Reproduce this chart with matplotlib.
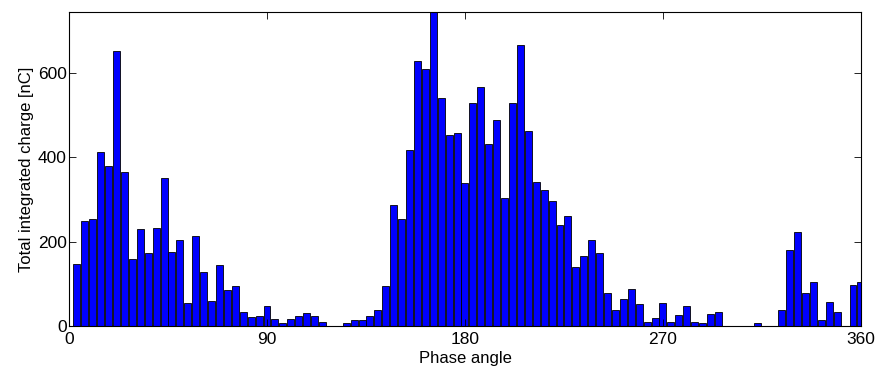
import matplotlib
matplotlib.use("Agg")
import matplotlib.pyplot as plt
import numpy as np

plt.rcParams['font.family'] = ['Liberation Sans', 'DejaVu Sans']

bin_step = 3.6
charge = [
    148, 249, 255, 412, 380, 652, 365, 160, 229, 172,
    233, 350, 175, 203, 54, 213, 127, 60, 145, 85,
    96, 33, 21, 24, 48, 17, 7, 17, 24, 31,
    24, 9, 0, 0, 7, 14, 14, 24, 37, 94,
    286, 255, 418, 629, 609, 760, 542, 452, 459, 339,
    529, 567, 433, 488, 303, 529, 666, 463, 342, 322,
    297, 239, 262, 141, 167, 203, 172, 78, 39, 65,
    88, 51, 10, 20, 55, 10, 26, 47, 10, 7,
    28, 32, 0, 0, 0, 0, 7, 0, 0, 37,
    181, 224, 79, 105, 14, 56, 33, 0, 97, 105,
]
phase = bin_step * np.arange(1, len(charge) + 1)
xticks = [0, 90, 180, 270, 360]
yticks = [0, 200, 400, 600]

fig = plt.figure(figsize=(8.75, 3.72), dpi=100)
ax = fig.add_axes([0.0789, 0.1237, 0.905, 0.844])
ax.bar(phase, charge, width=bin_step * 0.88, color='#0000ff',
       edgecolor='black', linewidth=0.6)
ax.set_xlim(0, 360)
ax.set_ylim(0, 745)
ax.set_xticks(xticks)
ax.set_yticks(yticks)
ax.tick_params(direction='in', length=5, width=0.6, labelsize=12.5,
               top=True, right=True)
ax.tick_params(axis='y', pad=1.5)
ax.tick_params(axis='x', pad=4)
for lbl in ax.get_yticklabels():
    lbl.set_verticalalignment('center_baseline')
for s in ax.spines.values():
    s.set_linewidth(0.8)
ax.set_xlabel('Phase angle', fontsize=12, labelpad=3)
ax.set_ylabel('Total integrated charge [nC]', fontsize=12, labelpad=3)
fig.savefig('out.png', dpi=100)
